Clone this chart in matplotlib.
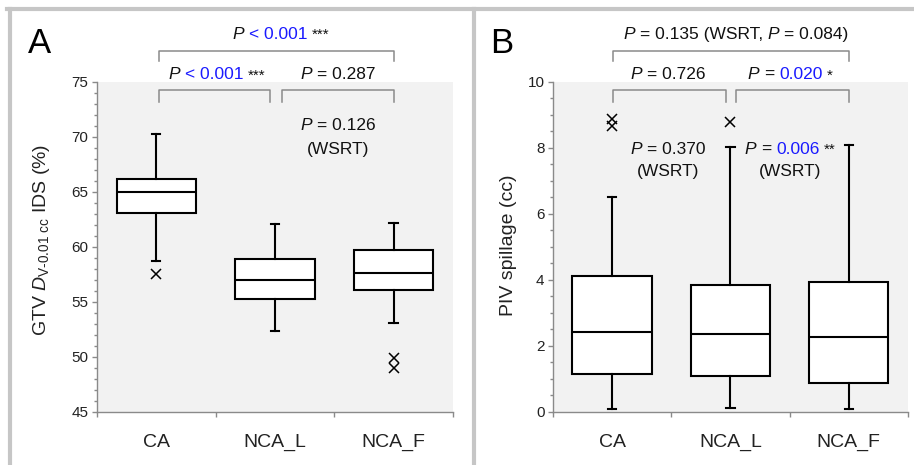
import matplotlib
matplotlib.use('Agg')
import matplotlib.pyplot as plt
from matplotlib.lines import Line2D
from matplotlib.ticker import MultipleLocator, FixedLocator, NullFormatter, FixedFormatter
from matplotlib.transforms import blended_transform_factory, ScaledTranslation

plt.rcParams['font.family'] = ['Liberation Sans', 'DejaVu Sans']
plt.rcParams['mathtext.fontset'] = 'custom'
plt.rcParams['mathtext.rm'] = 'Liberation Sans'
plt.rcParams['mathtext.it'] = 'Liberation Sans:italic'

categories = ['CA', 'NCA_L', 'NCA_F']

# panel A: GTV D_V-0.01cc IDS (%)
a_whislo = [58.7, 52.4, 53.1]
a_q1 = [63.1, 55.3, 56.1]
a_med = [65.0, 57.0, 57.6]
a_q3 = [66.2, 58.9, 59.7]
a_whishi = [70.3, 62.1, 62.2]
a_fliers = [[57.5], [], [49.9, 49.0]]

# panel B: PIV spillage (cc)
b_whislo = [0.09, 0.12, 0.09]
b_q1 = [1.15, 1.08, 0.89]
b_med = [2.43, 2.37, 2.26]
b_q3 = [4.12, 3.85, 3.93]
b_whishi = [6.5, 8.04, 8.09]
b_fliers = [[8.87, 8.68], [8.79], []]

BLUE = '#1a1aff'
BLACK = '#111111'
GREY = '#8a8a8a'
FS = 12.5
STAR_FS = 11

fig = plt.figure(figsize=(9.14, 4.65), dpi=100)
renderer = fig.canvas.get_renderer()


def make_stats(lo, q1, med, q3, hi, fl):
    return [dict(whislo=lo[i], q1=q1[i], med=med[i], q3=q3[i], whishi=hi[i], fliers=fl[i])
            for i in range(len(lo))]


def setup_axes(ax, ylim, major, minor):
    ax.set_facecolor('#f2f2f2')
    ax.set_xlim(0.5, 3.5)
    ax.set_ylim(*ylim)
    for s in ['top', 'right']:
        ax.spines[s].set_visible(False)
    for s in ['left', 'bottom']:
        ax.spines[s].set_color(GREY)
        ax.spines[s].set_linewidth(1.0)
    ax.yaxis.set_major_locator(MultipleLocator(major))
    ax.yaxis.set_minor_locator(MultipleLocator(minor))
    ax.tick_params(axis='y', which='major', length=3.6, width=1, color=GREY,
                   labelsize=11, labelcolor='#222222', pad=2.5)
    ax.tick_params(axis='y', which='minor', length=2.5, width=1, color=GREY)
    # category boundaries as ticks, labels in the middle
    ax.xaxis.set_major_locator(FixedLocator([0.5, 1.5, 2.5, 3.5]))
    ax.xaxis.set_major_formatter(NullFormatter())
    ax.xaxis.set_minor_locator(FixedLocator([1, 2, 3]))
    ax.xaxis.set_minor_formatter(FixedFormatter(categories))
    ax.tick_params(axis='x', which='major', length=3.3, width=1, color=GREY)
    ax.tick_params(axis='x', which='minor', length=0, labelsize=14,
                   labelcolor='#222222', pad=16)


def draw_boxes(ax, stats):
    ax.bxp(stats, positions=[1, 2, 3], widths=0.67, patch_artist=True,
           boxprops=dict(facecolor='white', edgecolor='black', linewidth=1.5),
           medianprops=dict(color='black', linewidth=1.5),
           whiskerprops=dict(color='black', linewidth=1.5),
           capprops=dict(color='black', linewidth=1.5), capwidths=0.07,
           flierprops=dict(marker='x', markersize=7, markeredgecolor='black',
                           markeredgewidth=1.1, linestyle='none'),
           manage_ticks=False)


def bracket(ax, x0, x1, ytop, ylow):
    tr = blended_transform_factory(ax.transData, ax.transAxes)
    ax.add_line(Line2D([x0, x0, x1, x1], [ylow, ytop, ytop, ylow], transform=tr,
                       color=GREY, lw=1.1, clip_on=False))


def rich(ax, x, y, pieces):
    # pieces: (text, color, italic, size, gap_before)
    tr = blended_transform_factory(ax.transData, ax.transAxes)
    items = []
    for s, col, it, fs, gap in pieces:
        t = ax.text(x, y, s, transform=tr, color=col, fontsize=fs,
                    style='italic' if it else 'normal', ha='left', va='baseline',
                    clip_on=False)
        w = t.get_window_extent(renderer).width
        g = gap * 0.278 * FS * fig.dpi / 72
        items.append((t, w, g))
    total = sum(w + g for _, w, g in items)
    off = -total / 2
    for t, w, g in items:
        off += g
        t.set_transform(tr + ScaledTranslation(off / fig.dpi, 0, fig.dpi_scale_trans))
        off += w


def p_eq(value, color=BLACK, stars=None):
    out = [('P', BLACK, True, FS, 0)]
    if color == BLACK:
        out.append(('= ' + value, BLACK, False, FS, 1))
    else:
        out.append(('=', BLACK, False, FS, 1))
        out.append((value, color, False, FS, 1))
    if stars:
        out.append((stars, BLACK, False, STAR_FS, 1))
    return out


def p_lt(value, stars):
    return [('P', BLACK, True, FS, 0), ('< ' + value, BLUE, False, FS, 1),
            (stars, BLACK, False, STAR_FS, 1)]


# ---------- panel A ----------
axA = fig.add_axes([0.1061, 0.114, 0.3895, 0.7097])
setup_axes(axA, (45, 75), 5, 1)
draw_boxes(axA, make_stats(a_whislo, a_q1, a_med, a_q3, a_whishi, a_fliers))
axA.set_ylabel('GTV $\\mathit{D}_{\\mathrm{V\u20100.01\\ cc}}$ IDS (%)', fontsize=14,
               color='#222222')
axA.yaxis.set_label_coords(-0.125, 0.52)

bracket(axA, 1.02, 1.96, 0.976, 0.94)
bracket(axA, 2.06, 3.0, 0.976, 0.94)
bracket(axA, 1.02, 3.0, 1.095, 1.063)
rich(axA, 2.05, 1.130, p_lt('0.001', '***'))
rich(axA, 1.51, 1.008, p_lt('0.001', '***'))
rich(axA, 2.53, 1.008, p_eq('0.287'))
rich(axA, 2.53, 0.8555, p_eq('0.126'))
rich(axA, 2.53, 0.782, [('(WSRT)', BLACK, False, FS, 0)])

# ---------- panel B ----------
axB = fig.add_axes([0.6050, 0.114, 0.3884, 0.7097])
setup_axes(axB, (0, 10), 2, 0.5)
draw_boxes(axB, make_stats(b_whislo, b_q1, b_med, b_q3, b_whishi, b_fliers))
axB.set_ylabel('PIV spillage (cc)', fontsize=14, color='#222222')
axB.yaxis.set_label_coords(-0.102, 0.505)

bracket(axB, 1.01, 1.96, 0.976, 0.94)
bracket(axB, 2.05, 3.0, 0.976, 0.94)
bracket(axB, 1.01, 3.0, 1.095, 1.063)
rich(axB, 2.045, 1.130, [('P', BLACK, True, FS, 0), ('= 0.135 (WSRT,', BLACK, False, FS, 1),
                         ('P', BLACK, True, FS, 1), ('= 0.084)', BLACK, False, FS, 1)])
rich(axB, 1.47, 1.008, p_eq('0.726'))
rich(axB, 2.505, 1.008, p_eq('0.020', BLUE, '*'))
rich(axB, 1.47, 0.782, p_eq('0.370'))
rich(axB, 1.47, 0.716, [('(WSRT)', BLACK, False, FS, 0)])
rich(axB, 2.505, 0.782, p_eq('0.006', BLUE, '**'))
rich(axB, 2.505, 0.716, [('(WSRT)', BLACK, False, FS, 0)])

# panel letters
fig.text(28 / 914, 1 - 53.3 / 465, 'A', fontsize=25, ha='left', va='baseline')
fig.text(490 / 914, 1 - 53.3 / 465, 'B', fontsize=25, ha='left', va='baseline')

# frame lines around panels
frame = dict(color='#c6c6c6', lw=3, transform=fig.transFigure)
ytop = 1 - 9.5 / 465
fig.add_artist(Line2D([7.5 / 914, 1], [ytop, ytop], **frame))
fig.add_artist(Line2D([9.5 / 914, 9.5 / 914], [0, ytop], **frame))
fig.add_artist(Line2D([473.7 / 914, 473.7 / 914], [0, ytop], **frame))

fig.savefig('out.png', dpi=100)
